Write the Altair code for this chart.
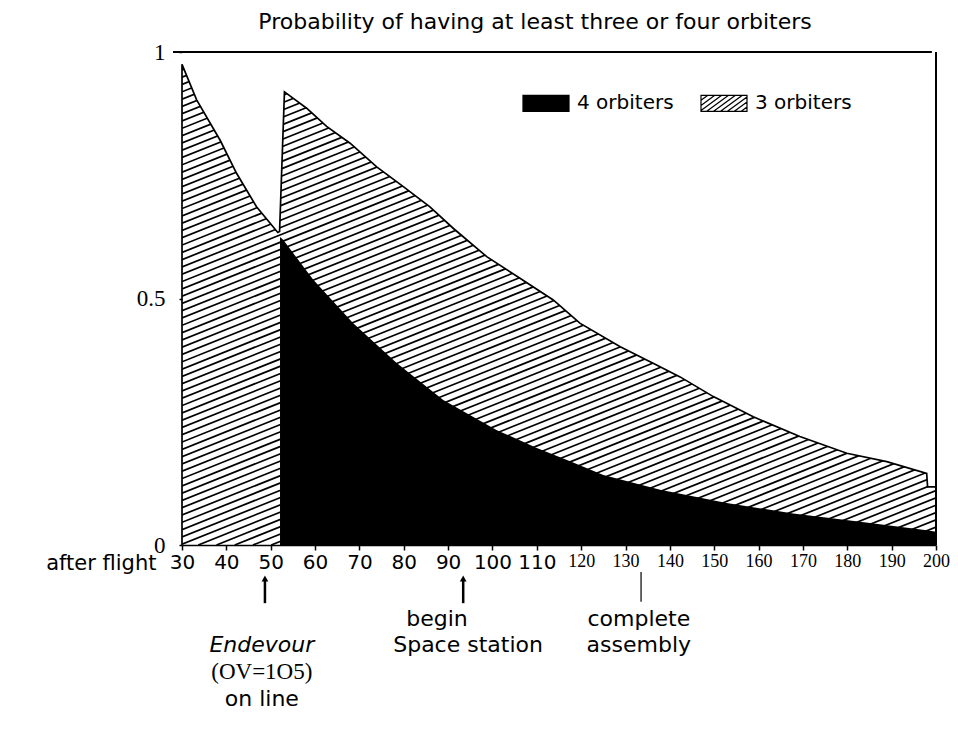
import altair as alt
import pandas as pd

# ---------------- data ----------------
# probability of having at least three orbiters (upper boundary of the hatched area)
total_flight = [30, 33.3, 38.6, 42.3, 46.8, 51.6, 52.0, 53.1, 55.1, 58.1, 62.6, 67.9, 73.9,
                79.9, 85.9, 91.2, 98.7, 106.2, 113.7, 119.7, 128.8, 137.0, 142.3, 149.8,
                158.8, 169.3, 179.9, 188.9, 197.9, 198.1, 200]
total_prob = [0.975, 0.903, 0.821, 0.754, 0.686, 0.634, 0.636, 0.919, 0.906, 0.886, 0.849,
              0.815, 0.767, 0.727, 0.686, 0.642, 0.585, 0.541, 0.497, 0.450, 0.402, 0.365,
              0.341, 0.301, 0.260, 0.220, 0.186, 0.169, 0.145, 0.118, 0.118]

# probability of having four orbiters (black area)
four_flight = [52.1, 52.8, 59.6, 68.6, 78.4, 88.9, 101.0, 110.0, 117.5, 125.0, 137.8,
               152.8, 167.8, 182.9, 197.9, 200]
four_prob = [0.625, 0.619, 0.538, 0.450, 0.369, 0.294, 0.233, 0.197, 0.170, 0.142, 0.112,
             0.085, 0.064, 0.047, 0.030, 0.027]

series_names = ["4 orbiters", "3 orbiters"]
x_tick_values = [30, 40, 50, 60, 70, 80, 90, 100, 110, 120, 130, 140, 150, 160, 170, 180, 190, 200]
y_tick_values = [0, 0.5, 1]

# annotations below the axis
arrow_flight = [48.7, 93.4]
marker_flight = [133.5]
note_sans_text = ["begin", "Space station", "complete", "assembly", "on line"]
note_sans_flight = [87.5, 94.5, 133.0, 133.0, 48.0]
note_sans_row = [-0.150, -0.203, -0.150, -0.203, -0.312]
note_italic_text = ["Endevour"]
note_italic_flight = [48.0]
note_italic_row = [-0.203]
note_serif_text = ["(OV=1O5)"]
note_serif_flight = [48.0]
note_serif_row = [-0.257]

title_text = "Probability of having at least three or four orbiters"

# ---------------- chart ----------------
SANS = "DejaVu Sans"
SERIF = "Liberation Serif"

xs = alt.Scale(domain=[30, 200], nice=False, zero=False)
ys = alt.Scale(domain=[0, 1], nice=False)

xaxis = alt.Axis(
    values=x_tick_values, format="d", grid=False,
    domainColor="black", domainWidth=1.5, tickColor="black", tickSize=5, tickWidth=1.5,
    labelColor="black", labelPadding=2, labelBaseline="top",
    labelFont={"condition": {"test": "datum.value >= 120", "value": SERIF}, "value": SANS},
    labelFontSize={"condition": {"test": "datum.value >= 120", "value": 18}, "value": 20},
    labelFlush=False, labelOverlap=False,
    title="after flight", titleFont=SANS, titleFontSize=21, titleFontWeight="normal",
    titleColor="black", titleAngle=0, titleAlign="right", titleBaseline="top",
    titleX=-26, titleY=7,
)
yaxis = alt.Axis(
    values=y_tick_values, format="~g", grid=False, domain=False,
    tickColor="black", tickSize=3, tickWidth=1.5,
    labelColor="black", labelFont=SERIF, labelFontSize=23, labelPadding=14,
    title="",
)

total_df = pd.DataFrame({"flight": total_flight, "prob": total_prob})
four_df = pd.DataFrame({"flight": four_flight, "prob": four_prob})
outline_df = pd.DataFrame({"flight": [total_flight[0]] + total_flight,
                           "prob": [0] + total_prob,
                           "idx": list(range(len(total_flight) + 1))})

# hatch texture for the "3 orbiters" area: parallel lines kept inside the plot
# rectangle, then masked above the curve
hatch = alt.Chart(alt.sequence(0, 112, as_="i")).transform_calculate(
    b="-0.62 + datum.i * 0.0148",
).transform_calculate(
    flight="max(30, 30 + (0 - datum.b) / 0.0036)",
    flight2="min(200, 30 + (1 - datum.b) / 0.0036)",
).transform_filter("datum.flight < datum.flight2").transform_calculate(
    prob="datum.b + 0.0036 * (datum.flight - 30)",
    prob2="datum.b + 0.0036 * (datum.flight2 - 30)",
).mark_rule(color="black", strokeWidth=1.7, clip=True).encode(
    x=alt.X("flight:Q", scale=xs, axis=xaxis),
    x2="flight2:Q",
    y=alt.Y("prob:Q", scale=ys, axis=yaxis),
    y2="prob2:Q",
)

mask = alt.Chart(total_df).mark_area(color="white", clip=True).encode(
    x=alt.X("flight:Q", scale=xs),
    y=alt.Y("prob:Q", scale=ys),
    y2=alt.datum(1.0),
)

black = alt.Chart(four_df).mark_area(color="black").encode(
    x=alt.X("flight:Q", scale=xs),
    y=alt.Y("prob:Q", scale=ys),
)

outline = alt.Chart(outline_df).mark_line(color="black", strokeWidth=1.7).encode(
    x=alt.X("flight:Q", scale=xs),
    y=alt.Y("prob:Q", scale=ys),
    order="idx:Q",
)

top_rule = alt.Chart(total_df).mark_rule(color="black", strokeWidth=1.2).encode(
    x=alt.datum(28.0), x2=alt.datum(198.9), y=alt.datum(1.0)
)
right_rule = alt.Chart(total_df).mark_rule(color="black", strokeWidth=1.5).encode(
    x=alt.datum(200), y=alt.datum(0), y2=alt.datum(1.0)
)

arrows_df = pd.DataFrame({"flight": arrow_flight})
arrow_shafts = alt.Chart(arrows_df).mark_rule(color="black", strokeWidth=2.5).encode(
    x=alt.X("flight:Q", scale=xs), y=alt.datum(-0.068), y2=alt.datum(-0.118)
)
arrow_heads = alt.Chart(arrows_df).mark_point(
    shape="triangle-up", filled=True, color="black", size=45, opacity=1
).encode(x=alt.X("flight:Q", scale=xs), y=alt.datum(-0.068))
marker = alt.Chart(pd.DataFrame({"flight": marker_flight})).mark_rule(
    color="black", strokeWidth=1.2
).encode(x=alt.X("flight:Q", scale=xs), y=alt.datum(-0.055), y2=alt.datum(-0.115))

notes_sans = alt.Chart(pd.DataFrame({"flight": note_sans_flight, "row": note_sans_row,
                                     "t": note_sans_text})).mark_text(
    font=SANS, fontSize=22, color="black", baseline="middle", align="center"
).encode(x=alt.X("flight:Q", scale=xs), y=alt.Y("row:Q", scale=ys), text="t:N")
notes_italic = alt.Chart(pd.DataFrame({"flight": note_italic_flight, "row": note_italic_row,
                                       "t": note_italic_text})).mark_text(
    font=SANS, fontSize=22, fontStyle="italic", color="black", baseline="middle", align="center"
).encode(x=alt.X("flight:Q", scale=xs), y=alt.Y("row:Q", scale=ys), text="t:N")
notes_serif = alt.Chart(pd.DataFrame({"flight": note_serif_flight, "row": note_serif_row,
                                      "t": note_serif_text})).mark_text(
    font=SERIF, fontSize=23, color="black", baseline="middle", align="center"
).encode(x=alt.X("flight:Q", scale=xs), y=alt.Y("row:Q", scale=ys), text="t:N")

# legend symbols (unit square paths scaled by the legend's symbol size)
H = 0.348
solid_path = f"M-1,-{H}H1V{H}H-1Z"
hatch_segs = []
dx = 0.95
a = -1.0 - dx
while a < 1.0:
    t0 = max(0.0, (-1.0 - a) / dx)
    t1 = min(1.0, (1.0 - a) / dx)
    if t1 - t0 > 0.02:
        xa, ya = a + dx * t0, H - 2 * H * t0
        xb, yb = a + dx * t1, H - 2 * H * t1
        hatch_segs.append(f"M{xa:.3f},{ya:.3f}L{xb:.3f},{yb:.3f}")
    a += 0.3
hatch_path = solid_path + "".join(hatch_segs)

legend_props = dict(
    title=None, orient="none", legendX=340, legendY=27, direction="horizontal",
    symbolSize=2116, symbolStrokeWidth=1.2, symbolOpacity=1,
    labelFont=SANS, labelFontSize=20, labelColor="black", labelOffset=7,
    columnPadding=24, padding=0,
)
legend_layer = alt.Chart(pd.DataFrame({"series": series_names})).transform_filter(
    "false"
).mark_point(filled=True, opacity=1, strokeWidth=1.2).encode(
    x=alt.datum(100), y=alt.datum(0.5),
    shape=alt.Shape("series:N", scale=alt.Scale(domain=series_names, range=[solid_path, hatch_path]),
                    legend=alt.Legend(**legend_props)),
    fill=alt.Fill("series:N", scale=alt.Scale(domain=series_names, range=["black", "white"]),
                  legend=alt.Legend(**legend_props)),
    stroke=alt.Stroke("series:N", scale=alt.Scale(domain=series_names, range=["black", "black"]),
                      legend=alt.Legend(**legend_props)),
)

chart = alt.layer(
    hatch, mask, black, outline, top_rule, right_rule,
    arrow_shafts, arrow_heads, marker, notes_sans, notes_italic, notes_serif, legend_layer,
).properties(
    width=754, height=493,
    autosize=alt.AutoSizeParams(type="none"),
    padding={"left": 174, "top": 44, "right": 14, "bottom": 190},
    title=alt.TitleParams(title_text, font=SANS, fontSize=22, fontWeight="normal",
                          color="black", anchor="middle", dx=-24, dy=27, offset=12,
                          baseline="bottom"),
).configure_view(stroke=None)

chart.save("out.html", embed_options={"renderer": "svg", "actions": False})
